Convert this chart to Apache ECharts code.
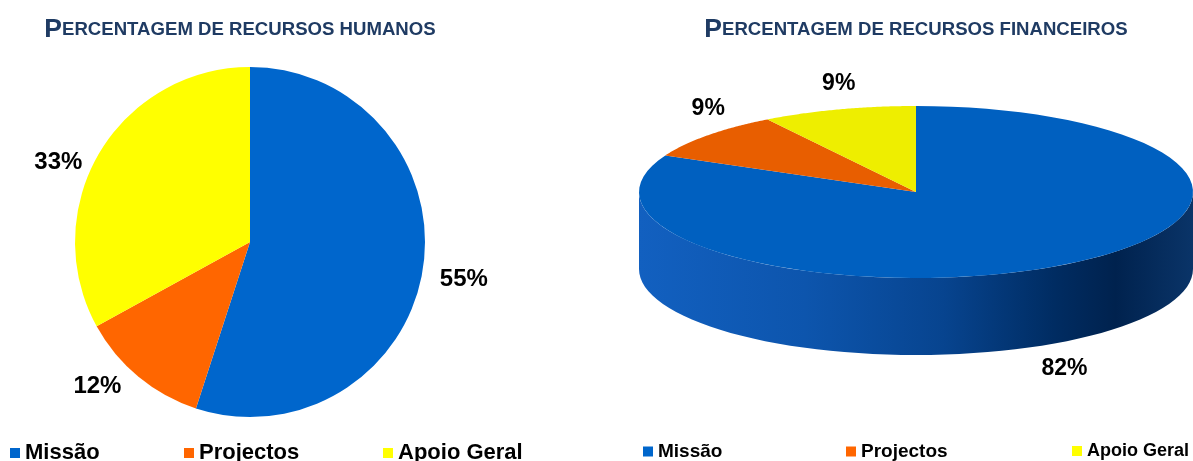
<!DOCTYPE html>
<html>
<head>
<meta charset="utf-8">
<script src="https://cdn.jsdelivr.net/npm/echarts@6/dist/echarts.min.js"></script>
<style>
html, body { margin: 0; padding: 0; background: #fff; }
#chart { width: 1193px; height: 461px; }
</style>
</head>
<body>
<div id="chart"></div>
<script>
var categories = ['Missão', 'Projectos', 'Apoio Geral'];
var humanos = [55, 12, 33];
var financeiros = [82, 9, 9];
var colors = ['#0066cc', '#ff6600', '#ffff00'];
var colors3d = ['#0060c0', '#e85e00', '#eeee00'];

var chart = echarts.init(document.getElementById('chart'));

// geometry of the tilted pie on the right
var cx = 916, cy = 192, rx = 277, ry = 86, depth = 77;
var total = financeiros.reduce(function (a, b) { return a + b; }, 0);
var starts = [];
var acc = 0;
financeiros.forEach(function (v) { starts.push(acc); acc += v; });

function pt(theta, dy) {
  return [cx + rx * Math.sin(theta), cy - ry * Math.cos(theta) + (dy || 0)];
}

var sideBlue = {
  type: 'linear', x: cx - rx, y: 0, x2: cx + rx, y2: 0, global: true,
  colorStops: [
    { offset: 0, color: '#1260c0' },
    { offset: 0.3, color: '#0d55ad' },
    { offset: 0.55, color: '#07448f' },
    { offset: 0.75, color: '#002c62' },
    { offset: 0.86, color: '#00224e' },
    { offset: 1, color: '#0a3468' }
  ]
};
var sideOther = ['#07448f', '#a84200', '#b0b000'];

var labelFont = 'bold 23px "Liberation Sans", Arial, sans-serif';

function renderSlice(params, api) {
  var i = params.dataIndex;
  var a0 = starts[i] / total * 2 * Math.PI;
  var a1 = (starts[i] + financeiros[i]) / total * 2 * Math.PI;
  var children = [];
  // only the front half of the wall can be seen
  var s0 = Math.max(a0, Math.PI / 2), s1 = Math.min(a1, 3 * Math.PI / 2);
  if (s1 > s0) {
    var top = [], bot = [];
    for (var k = 0; k <= 60; k++) {
      var t = s0 + (s1 - s0) * k / 60;
      top.push(pt(t));
      bot.push(pt(t, depth));
    }
    children.push({
      type: 'polygon', z2: 1,
      shape: { points: top.concat(bot.reverse()) },
      style: { fill: i === 0 ? sideBlue : sideOther[i] }
    });
  }
  var pts = [[cx, cy]];
  for (var j = 0; j <= 80; j++) pts.push(pt(a0 + (a1 - a0) * j / 80));
  children.push({
    type: 'polygon', z2: 2,
    shape: { points: pts },
    style: { fill: colors3d[i] }
  });
  var m = (a0 + a1) / 2;
  var front = Math.cos(m) < 0;
  var lp = pt(m, front ? depth + 27 : -26);
  children.push({
    type: 'text', z2: 3, x: lp[0], y: lp[1],
    style: {
      text: api.value(0) + '%', font: labelFont, fill: '#000',
      align: 'center', verticalAlign: 'middle'
    }
  });
  return { type: 'group', children: children };
}

function titleText(rest) {
  return '{a|P}{b|' + rest + '}';
}
var titleRich = {
  a: { fontSize: 26.5, fontFamily: 'Liberation Sans', color: '#1f3b63' },
  b: { fontSize: 18.6, fontFamily: 'Liberation Sans', color: '#1f3b63' }
};

function legendItem(name, left, size) {
  return {
    data: [name], left: left, top: 442, selectedMode: false,
    itemWidth: 10, itemHeight: 10, itemGap: 0, padding: 0,
    icon: 'rect',
    textStyle: {
      fontSize: size, fontWeight: 'bold', color: '#000',
      fontFamily: '"Liberation Sans", Arial, sans-serif'
    }
  };
}

var option = {
  animation: false,
  title: [
    { text: titleText('ERCENTAGEM DE RECURSOS HUMANOS'), left: 235, top: 11, textAlign: 'center',
      textStyle: { rich: titleRich } },
    { text: titleText('ERCENTAGEM DE RECURSOS FINANCEIROS'), left: 911, top: 11, textAlign: 'center',
      textStyle: { rich: titleRich } }
  ],
  legend: [
    legendItem(categories[0], 10, 22),
    legendItem(categories[1], 184, 22),
    legendItem(categories[2], 383, 22),
    legendItem(categories[0], 643, 19),
    legendItem(categories[1], 846, 19),
    legendItem(categories[2], 1072, 18)
  ],
  series: [
    {
      type: 'pie',
      center: [250, 242],
      radius: 175,
      startAngle: 90,
      clockwise: true,
      avoidLabelOverlap: false,
      data: categories.map(function (c, i) {
        return { name: c, value: humanos[i], itemStyle: { color: colors[i] } };
      }),
      label: {
        position: 'outside',
        // empty first line pushes the value a little below the anchor
        formatter: function (p) { return '\n' + p.value + '%'; },
        fontSize: 24, fontWeight: 'bold', color: '#000', lineHeight: 19,
        fontFamily: '"Liberation Sans", Arial, sans-serif'
      },
      labelLine: { show: false, length: 0, length2: 12 },
      emphasis: { disabled: true }
    },
    {
      type: 'custom',
      name: 'financeiros',
      coordinateSystem: 'none',
      renderItem: renderSlice,
      data: financeiros.map(function (v, i) { return { name: categories[i], value: [v] }; })
    }
  ]
};
chart.setOption(option);
</script>
</body>
</html>
